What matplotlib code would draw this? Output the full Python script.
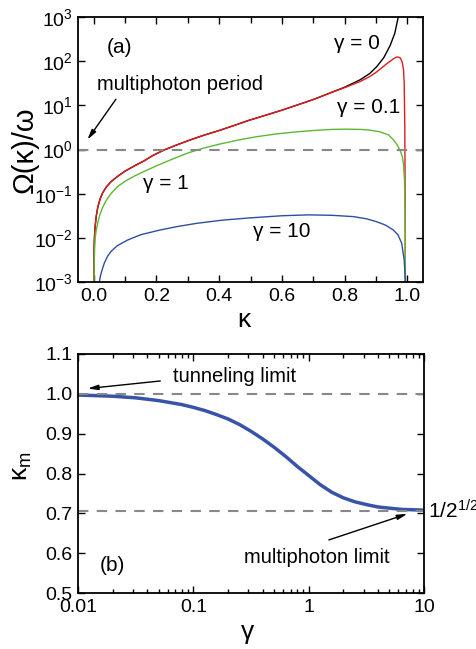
import numpy as np
import matplotlib
matplotlib.use('Agg')
import matplotlib.pyplot as plt
from matplotlib.ticker import MultipleLocator, FixedLocator, NullLocator, LogLocator
import matplotlib.transforms as mtransforms

plt.rcParams['font.family'] = ['Liberation Sans', 'DejaVu Sans']
plt.rcParams['mathtext.fontset'] = 'custom'
plt.rcParams['mathtext.rm'] = 'Liberation Sans'
plt.rcParams['mathtext.it'] = 'Liberation Sans:italic'
plt.rcParams['mathtext.default'] = 'regular'

# ---------------- panel (a) data: log10(Omega/omega) vs kappa ----------------
kappa_g0 = [0.0005, 0.0008, 0.0012, 0.002, 0.003, 0.005, 0.008, 0.013, 0.02, 0.028, 0.04,
            0.055, 0.076, 0.1, 0.13, 0.16, 0.19, 0.225, 0.26, 0.305, 0.35, 0.4, 0.45, 0.495,
            0.55, 0.6, 0.65, 0.7, 0.75, 0.8, 0.85, 0.88, 0.903, 0.925, 0.945, 0.96, 0.971, 0.98]
logw_g0 = [-3.0, -2.7, -2.4, -2.1, -1.92, -1.72, -1.52, -1.31, -1.13, -0.99, -0.85,
           -0.73, -0.61, -0.49, -0.37, -0.26, -0.13, -0.01, 0.09, 0.21, 0.32, 0.43, 0.55, 0.66,
           0.78, 0.89, 1.01, 1.13, 1.27, 1.41, 1.58, 1.72, 1.88, 2.08, 2.35, 2.63, 3.0, 3.5]

kappa_g01 = [0.0005, 0.0008, 0.0012, 0.002, 0.003, 0.005, 0.008, 0.013, 0.02, 0.028, 0.04,
             0.055, 0.076, 0.1, 0.13, 0.16, 0.19, 0.225, 0.26, 0.305, 0.35, 0.4, 0.45, 0.495,
             0.55, 0.6, 0.65, 0.7, 0.75, 0.8, 0.85, 0.88, 0.903, 0.934, 0.955, 0.965, 0.971,
             0.978, 0.984, 0.988, 0.99, 0.992, 0.993, 0.9935]
logw_g01 = [-3.0, -2.7, -2.4, -2.1, -1.92, -1.72, -1.52, -1.31, -1.13, -0.99, -0.85,
            -0.73, -0.61, -0.49, -0.37, -0.26, -0.13, -0.01, 0.09, 0.21, 0.32, 0.43, 0.55, 0.66,
            0.78, 0.89, 1.01, 1.13, 1.27, 1.40, 1.54, 1.65, 1.76, 1.94, 2.05, 2.09, 2.095,
            2.07, 1.97, 1.8, 1.5, 0.5, -1.0, -3.0]

kappa_g1 = [0.0008, 0.0015, 0.003, 0.005, 0.008, 0.013, 0.02, 0.028, 0.04, 0.055, 0.076, 0.1,
            0.13, 0.16, 0.2, 0.25, 0.3, 0.35, 0.4, 0.463, 0.52, 0.58, 0.64, 0.7, 0.76, 0.8,
            0.85, 0.88, 0.913, 0.94, 0.956, 0.968, 0.977, 0.984, 0.988, 0.991, 0.993, 0.994]
logw_g1 = [-3.0, -2.6, -2.25, -2.0, -1.83, -1.66, -1.47, -1.32, -1.15, -1.0, -0.84, -0.72,
           -0.6, -0.5, -0.37, -0.22, -0.08, 0.03, 0.12, 0.217, 0.29, 0.35, 0.395, 0.43, 0.455, 0.46,
           0.455, 0.44, 0.40, 0.33, 0.22, 0.10, -0.02, -0.16, -0.35, -0.7, -1.5, -3.0]

kappa_g10 = [0.018, 0.022, 0.028, 0.034, 0.044, 0.055, 0.075, 0.108, 0.15, 0.213, 0.27, 0.33,
             0.41, 0.495, 0.6, 0.686, 0.76, 0.829, 0.87, 0.90, 0.93, 0.955, 0.97, 0.982, 0.99, 0.994]
logw_g10 = [-3.0, -2.85, -2.7, -2.57, -2.42, -2.31, -2.18, -2.05, -1.93, -1.82, -1.74, -1.67,
            -1.6, -1.55, -1.50, -1.48, -1.49, -1.52, -1.57, -1.63, -1.71, -1.82, -1.93, -2.12, -2.5, -3.0]

# ---------------- panel (b) data: kappa_m vs gamma ----------------
log_gamma_b = [-2.0, -1.7, -1.5, -1.3, -1.1, -1.0, -0.9, -0.8, -0.7, -0.6, -0.5, -0.4, -0.3,
               -0.2, -0.1, 0.0, 0.1, 0.2, 0.3, 0.4, 0.5, 0.6, 0.7, 0.8, 0.9, 1.0]
kappa_m = [0.997, 0.994, 0.990, 0.983, 0.973, 0.966, 0.958, 0.948, 0.937, 0.923, 0.906, 0.887,
           0.866, 0.843, 0.818, 0.795, 0.772, 0.753, 0.739, 0.729, 0.722, 0.716, 0.713, 0.710,
           0.709, 0.708]

tunneling_limit = 1.0
multiphoton_limit = 1 / np.sqrt(2)

# ---------------- figure ----------------
fig = plt.figure(figsize=(4.76, 6.49), dpi=100)
ax1 = fig.add_axes([78/476, 1-282/649, 345/476, 265/649])
ax2 = fig.add_axes([78/476, 1-593/649, 346/476, 239/649])

c_red = '#e41a1c'
c_green = '#5cb832'
c_blue = '#2f4ea3'

ax1.plot(kappa_g0, 10**np.array(logw_g0), color='black', lw=1.0)
ax1.plot(kappa_g01, 10**np.array(logw_g01), color=c_red, lw=1.0)
ax1.plot(kappa_g1, 10**np.array(logw_g1), color=c_green, lw=1.0)
ax1.plot(kappa_g10, 10**np.array(logw_g10), color=c_blue, lw=1.0)
ax1.axhline(1.0, color='#888888', lw=1.5, dashes=(5, 4))

ax1.set_yscale('log')
ax1.set_ylim(1e-3, 1e3)
ax1.set_xlim(-0.05, 1.05)
ax1.yaxis.set_major_locator(FixedLocator([1e-3, 1e-2, 1e-1, 1e0, 1e1, 1e2, 1e3]))
ax1.yaxis.set_minor_locator(NullLocator())
ax1.xaxis.set_major_locator(MultipleLocator(0.2))
ax1.xaxis.set_minor_locator(MultipleLocator(0.1))
ax1.xaxis.set_major_formatter(plt.FuncFormatter(lambda v, p: f'{v:.1f}'))

ax1.text(0.083, 10**2.32, '(a)', fontsize=15, ha='center', va='center')
ax1.text(0.84, 10**2.41, 'γ = 0', fontsize=15, ha='center', va='center')
ax1.text(0.876, 10**0.94, 'γ = 0.1', fontsize=15, ha='center', va='center')
ax1.text(0.229, 10**-0.76, 'γ = 1', fontsize=15, ha='center', va='center')
ax1.text(0.60, 10**-1.86, 'γ = 10', fontsize=15, ha='center', va='center')
ax1.text(0.01, 10**1.47, 'multiphoton period', fontsize=14.5, ha='left', va='center')
ax1.annotate('', xy=(-0.025, 10**0.17), xytext=(0.076, 10**1.19),
             arrowprops=dict(arrowstyle='-|>,head_length=0.6,head_width=0.15', color='black', lw=1.0))

ax1.set_ylabel('Ω(κ)/ω', fontsize=21, va='center')
ax1.yaxis.set_label_coords(-0.154, 0.5)
ax1.set_xlabel('κ', fontsize=19, va='center')
ax1.xaxis.set_label_coords(0.48, -0.143)

# panel (b)
ax2.plot(10**np.array(log_gamma_b), kappa_m, color='#3853a8', lw=2.5)
ax2.axhline(tunneling_limit, color='#888888', lw=1.5, dashes=(5, 4))
ax2.axhline(multiphoton_limit, color='#888888', lw=1.5, dashes=(5, 4))
ax2.set_xscale('log')
ax2.set_xlim(0.01, 10)
ax2.set_ylim(0.5, 1.1)
ax2.yaxis.set_major_locator(MultipleLocator(0.1))
ax2.yaxis.set_major_formatter(plt.FuncFormatter(lambda v, p: f'{v:.1f}'))
ax2.xaxis.set_major_locator(FixedLocator([0.01, 0.1, 1, 10]))
ax2.xaxis.set_major_formatter(plt.FuncFormatter(lambda v, p: f'{v:g}'))
ax2.xaxis.set_minor_locator(LogLocator(base=10, subs=np.arange(2, 10), numticks=20))
ax2.xaxis.set_minor_formatter(plt.NullFormatter())

ax2.text(0.0667, 1.043, 'tunneling limit', fontsize=14.5, ha='left', va='center')
ax2.annotate('', xy=(0.0115, 1.0126), xytext=(0.0546, 1.033),
             arrowprops=dict(arrowstyle='-|>,head_length=0.6,head_width=0.15', color='black', lw=1.0))
ax2.text(0.0197, 0.570, '(b)', fontsize=15, ha='center', va='center')
ax2.text(1.18, 0.588, 'multiphoton limit', fontsize=14.5, ha='center', va='center')
ax2.annotate('', xy=(7.57, 0.701), xytext=(1.42, 0.631),
             arrowprops=dict(arrowstyle='-|>,head_length=0.6,head_width=0.15', color='black', lw=1.0))
trans = mtransforms.blended_transform_factory(ax2.transAxes, ax2.transData)
ax2.text(1.012, multiphoton_limit, r'$1/2^{1/2}$', fontsize=15, ha='left', va='center', transform=trans)

ax2.set_ylabel('κ$_m$', fontsize=19, va='center')
ax2.yaxis.set_label_coords(-0.162, 0.53)
ax2.set_xlabel('γ', fontsize=19, va='center')
ax2.xaxis.set_label_coords(0.49, -0.163)

for ax in (ax1, ax2):
    ax.tick_params(which='both', direction='in', top=True, right=True, labelsize=14, width=1.0)
    ax.tick_params(which='major', length=5, pad=4)
    ax.tick_params(which='minor', length=4)
    for s in ax.spines.values():
        s.set_linewidth(1.3)
ax2.tick_params(which='minor', length=3)

fig.savefig('out.png', dpi=100)
